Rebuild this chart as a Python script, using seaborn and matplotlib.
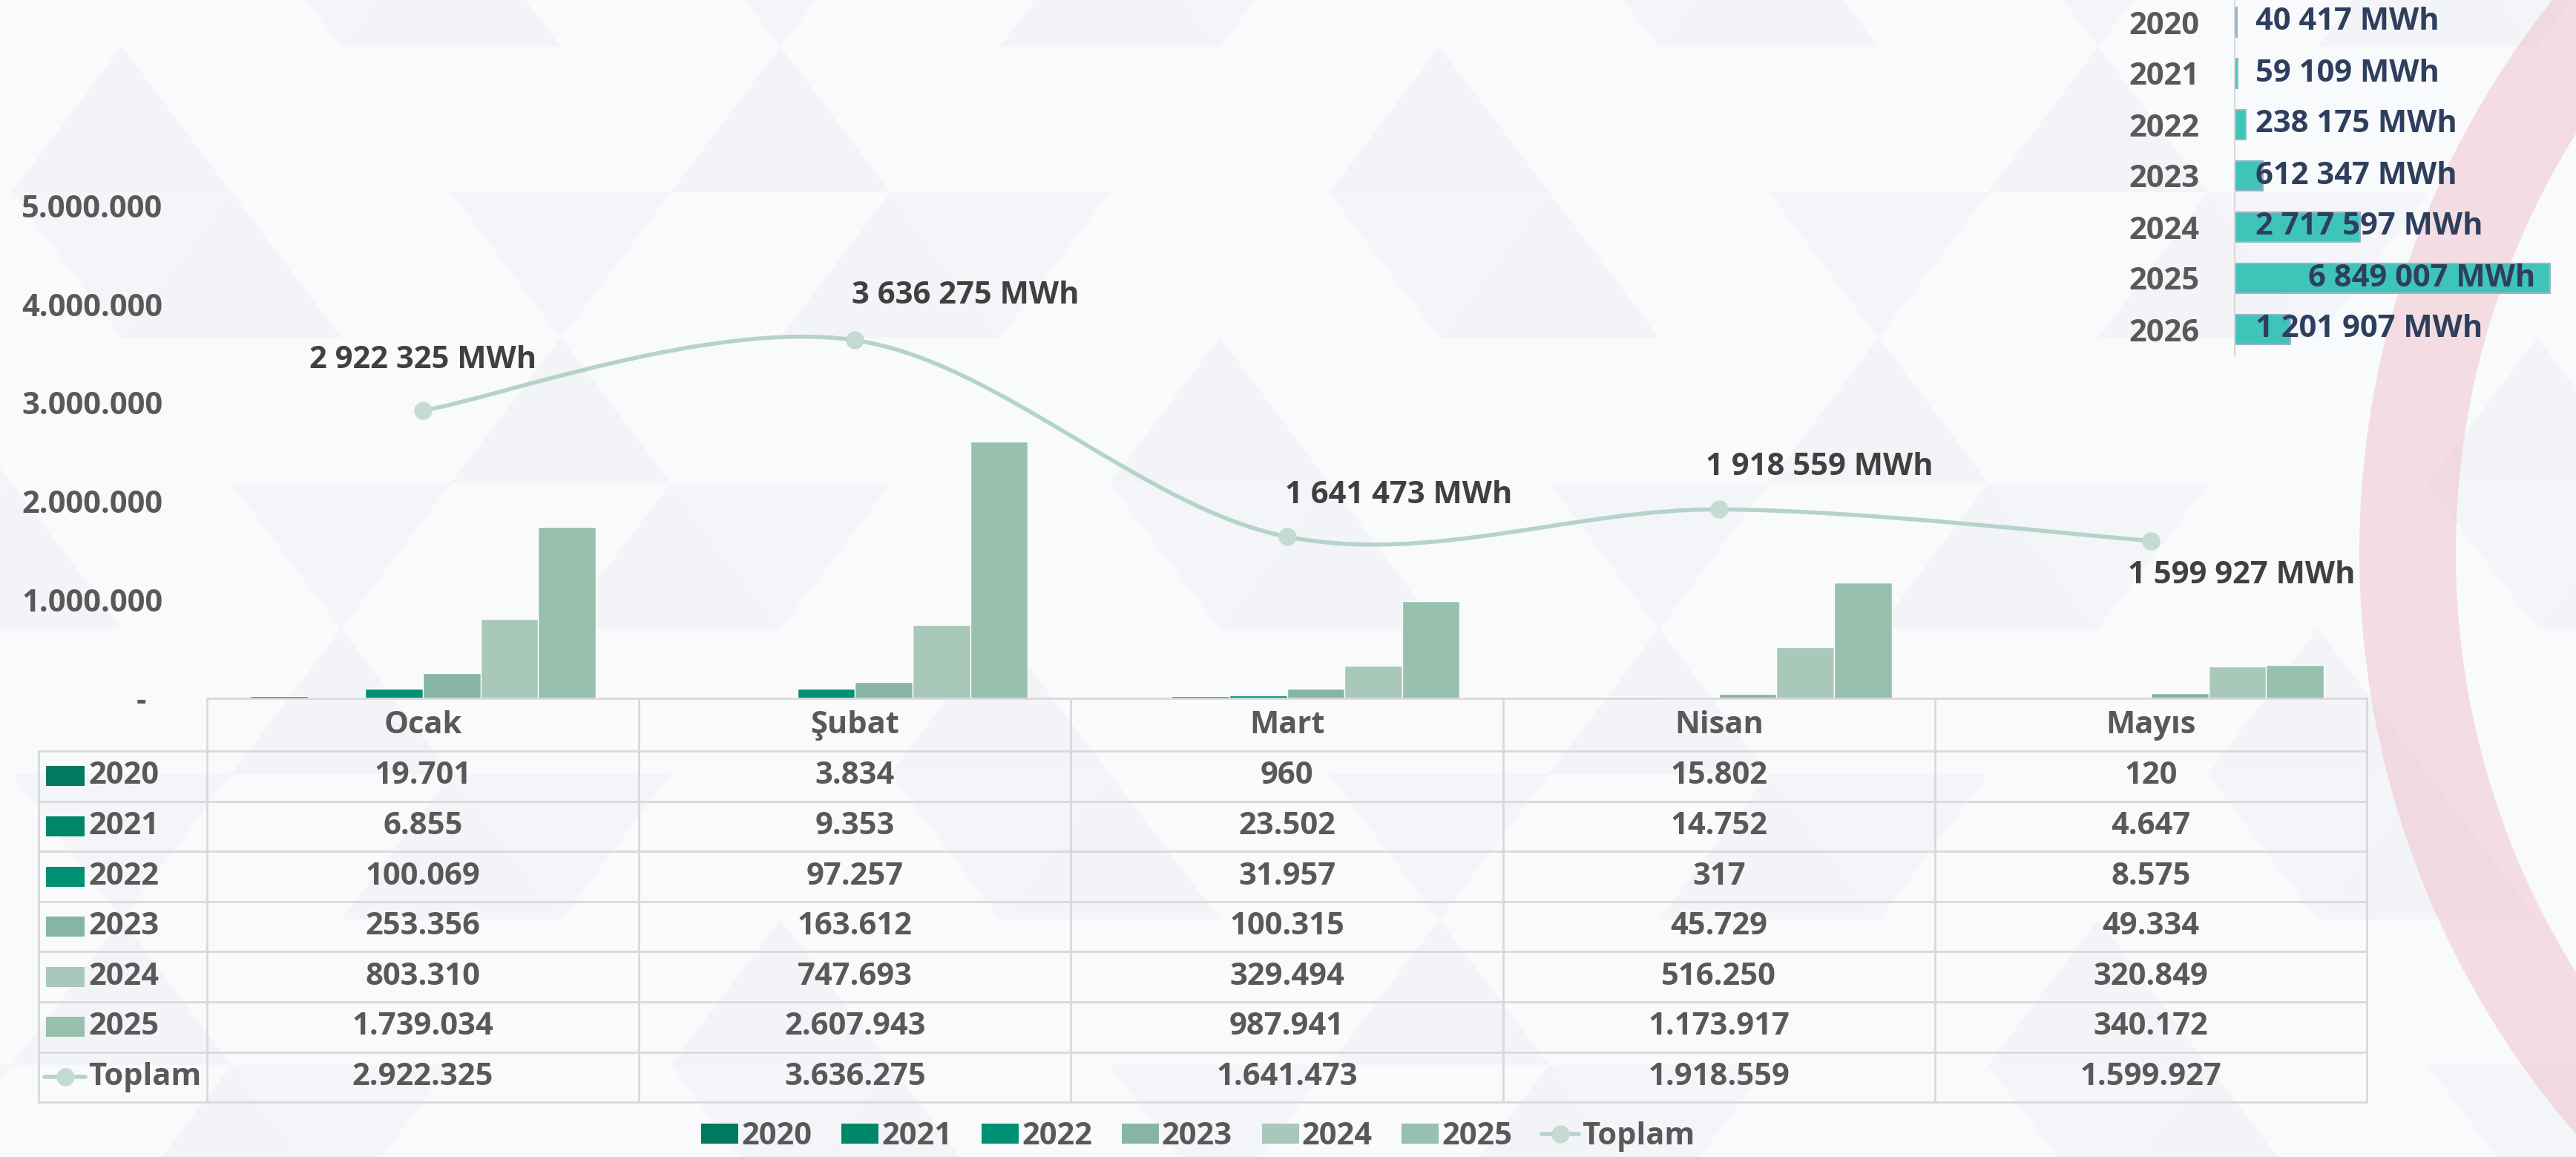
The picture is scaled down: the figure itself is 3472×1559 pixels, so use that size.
import numpy as np
import pandas as pd
import seaborn as sns
from matplotlib import pyplot as plt
from matplotlib import transforms
from matplotlib.path import Path
from matplotlib.patches import PathPatch, Rectangle, Polygon, Wedge, Patch
from matplotlib.lines import Line2D

# monthly production by year (MWh)
months = ["Ocak", "Şubat", "Mart", "Nisan", "Mayıs"]
years = ["2020", "2021", "2022", "2023", "2024", "2025"]
v2020 = [19701, 3834, 960, 15802, 120]
v2021 = [6855, 9353, 23502, 14752, 4647]
v2022 = [100069, 97257, 31957, 317, 8575]
v2023 = [253356, 163612, 100315, 45729, 49334]
v2024 = [803310, 747693, 329494, 516250, 320849]
v2025 = [1739034, 2607943, 987941, 1173917, 340172]
toplam = [2922325, 3636275, 1641473, 1918559, 1599927]

# yearly totals (inset, top right)
annual_years = ["2020", "2021", "2022", "2023", "2024", "2025", "2026"]
annual_totals = [40417, 59109, 238175, 612347, 2717597, 6849007, 1201907]

year_colors = ["#007A5E", "#00876A", "#009073", "#87B5A5", "#A8C8BA", "#97C0AF"]
line_color = "#B6D3C8"
marker_color = "#C3DBD2"
grid_color = "#D9D9D9"
text_grey = "#595959"

W, H = 3472, 1559
FS = 30
PT = 0.72  # points per pixel at dpi 100

sns.set_style("white")
plt.rcParams["font.family"] = ["Open Sans", "DejaVu Sans"]
plt.rcParams["font.weight"] = "bold"

fig = plt.figure(figsize=(W / 100, H / 100), dpi=100)
fig.patch.set_facecolor("#F9FAFC")

# background: light triangle pattern + red ring
bg = fig.add_axes([0, 0, 1, 1], zorder=0)
bg.set_xlim(0, W)
bg.set_ylim(H, 0)
bg.axis("off")
row_h, tri_w = 196, 296
for r in range(-1, 9):
    ytop = 63 + r * row_h
    ybot = ytop + row_h
    off = 164 if r % 2 == 0 else 16
    for k in range(-2, 14):
        xt = off + k * tri_w
        if (2 * r + k) % 3 == 0:
            bg.add_patch(Polygon([(xt, ytop), (xt - 148, ybot), (xt + 148, ybot)], color="#F2F4F7", lw=0))
        if (r + 2 * k) % 4 == 1:
            bg.add_patch(Polygon([(xt, ytop), (xt + 296, ytop), (xt + 148, ybot)], color="#F3F5F8", lw=0))
bg.add_patch(Wedge((4377, 745), 1197, 0, 360, width=130, color="#EDB3BC", alpha=0.4, lw=0))

# main chart
ax = fig.add_axes([279 / W, 1 - 941 / H, (3190 - 279) / W, 941 / H], zorder=2)
ax.patch.set_alpha(0)
df = pd.DataFrame({
    "Ay": np.tile(months, len(years)),
    "Yıl": np.repeat(years, len(months)),
    "MWh": np.concatenate([v2020, v2021, v2022, v2023, v2024, v2025]),
})
sns.barplot(data=df, x="Ay", y="MWh", hue="Yıl", order=months, hue_order=years,
            palette=year_colors, saturation=1, width=0.8, errorbar=None, legend=False, ax=ax)

# smoothed total line (Catmull-Rom style bezier, like Excel's smooth line)
P = np.column_stack([np.arange(len(months), dtype=float), np.array(toplam, dtype=float)])
Pe = np.vstack([P[0], P, P[-1]])
verts, codes = [P[0]], [Path.MOVETO]
for i in range(len(P) - 1):
    c1 = Pe[i + 1] + (Pe[i + 2] - Pe[i]) / 6
    c2 = Pe[i + 2] - (Pe[i + 3] - Pe[i + 1]) / 6
    verts += [c1, c2, Pe[i + 2]]
    codes += [Path.CURVE4] * 3
ax.add_patch(PathPatch(Path(verts, codes), fill=False, edgecolor=line_color, lw=4, capstyle="round", zorder=3))
ax.plot(P[:, 0], P[:, 1], ls="none", marker="o", ms=16.5, color=marker_color, zorder=4)

label_offsets = [(0, 68, "center"), (-4, 60, "left"), (-3, 56, "left"), (-18, 57, "left"), (-31, -47, "left")]
for i, v in enumerate(toplam):
    dx, dy, ha = label_offsets[i]
    ax.annotate(f"{v:,} MWh".replace(",", " "), (i, v), xytext=(dx * PT, dy * PT),
                textcoords="offset points", ha=ha, va="center", fontsize=FS,
                fontweight="bold", color="#404040", zorder=5)

ax.set_xlim(-0.5, 4.5)
ax.set_ylim(0, 7.09e6)
ticks = [0, 1e6, 2e6, 3e6, 4e6, 5e6]
ax.set_yticks(ticks)
ax.set_yticklabels(["-  "] + [f"{int(t):,}".replace(",", ".") for t in ticks[1:]])
ax.set_xticks([])
ax.set_xlabel("")
ax.set_ylabel("")
ax.tick_params(length=0, pad=43, labelsize=FS, labelcolor=text_grey)
sns.despine(ax=ax, left=True, bottom=True)

# data table under the chart
ov = fig.add_axes([0, 0, 1, 1], zorder=3)
ov.set_xlim(0, W)
ov.set_ylim(H, 0)
ov.axis("off")
ov.patch.set_alpha(0)
bt = transforms.blended_transform_factory(ax.transData, ov.transData)

row_top, row_h2 = 1012, 67.6
n_rows = len(years) + 1
row_edges = [row_top + k * row_h2 for k in range(n_rows + 1)]
tbl_bottom = row_edges[-1]
ov.plot([-0.5, 4.5], [941, 941], color=grid_color, lw=2, transform=bt)
for y in row_edges:
    ov.plot([52, 279], [y, y], color=grid_color, lw=2)
    ov.plot([-0.5, 4.5], [y, y], color=grid_color, lw=2, transform=bt)
ov.plot([52, 52], [row_top, tbl_bottom], color=grid_color, lw=2)
for xb in np.arange(-0.5, len(months), 1.0):
    ov.plot([xb, xb], [941, tbl_bottom], color=grid_color, lw=2, transform=bt)

for i, m in enumerate(months):
    ov.text(i, 977, m, transform=bt, ha="center", va="center", fontsize=FS, color=text_grey, fontweight="bold")

table_rows = [v2020, v2021, v2022, v2023, v2024, v2025, toplam]
row_names = years + ["Toplam"]
for r, (name, vals) in enumerate(zip(row_names, table_rows)):
    yc = row_top + (r + 0.5) * row_h2
    if r < len(years):
        ov.add_patch(Rectangle((62, yc - 13.5), 52, 27, color=year_colors[r], lw=0))
    else:
        ov.plot([60, 115], [yc, yc], color=line_color, lw=4)
        ov.plot([87.5], [yc], marker="o", ms=16.5, color=marker_color)
    ov.text(119, yc, name, ha="left", va="center", fontsize=FS, color=text_grey, fontweight="bold")
    for i, v in enumerate(vals):
        ov.text(i, yc, f"{v:,}".replace(",", "."), transform=bt, ha="center", va="center",
                fontsize=FS, color=text_grey, fontweight="bold")

# inset: yearly totals
ax2 = fig.add_axes([3012 / W, 1 - 478.5 / H, 460 / W, 483 / H], zorder=4)
ax2.patch.set_alpha(0)
sns.barplot(x=annual_totals, y=annual_years, orient="h", color="#3EC4B8", saturation=1,
            width=0.58, edgecolor="#9DB3C9", linewidth=1.5, errorbar=None, ax=ax2)
ax2.set_xlim(0, 7.413e6)
ax2.set_xticks([])
ax2.set_xlabel("")
ax2.set_ylabel("")
ax2.tick_params(axis="y", length=0, pad=34, labelsize=FS, labelcolor=text_grey)
sns.despine(ax=ax2, bottom=True)
ax2.spines["left"].set_color(grid_color)
ax2.spines["left"].set_linewidth(1.5)
vmax = max(annual_totals)
for i, v in enumerate(annual_totals):
    txt = f"{v:,} MWh".replace(",", " ")
    if v == vmax:
        ax2.annotate(txt, (v, i), xytext=(-20 * PT, 0), textcoords="offset points",
                     ha="right", va="center", fontsize=FS, color="#2E3F5E", fontweight="bold")
    else:
        ax2.annotate(txt, (0, i), xytext=(28 * PT, 0), textcoords="offset points",
                     ha="left", va="center", fontsize=FS, color="#2E3F5E", fontweight="bold")

# legend
handles = [Patch(facecolor=c, edgecolor="none") for c in year_colors]
handles.append(Line2D([], [], color=line_color, lw=4, marker="o", ms=16.5,
                      markerfacecolor=marker_color, markeredgecolor=marker_color))
fig.legend(handles, years + ["Toplam"], loc="center", bbox_to_anchor=(1615 / W, 1 - 1532 / H),
           ncol=7, frameon=False, prop={"size": FS, "weight": "bold"}, labelcolor=text_grey,
           handlelength=1.2, handleheight=0.63, handletextpad=0.1, columnspacing=0.95)

fig.savefig("out.png", dpi=100, facecolor=fig.get_facecolor())
